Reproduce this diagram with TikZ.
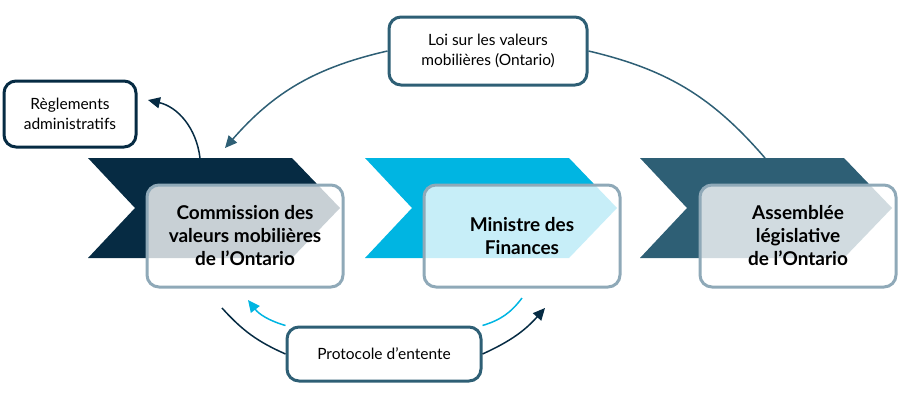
\documentclass[tikz,border=0pt]{standalone}
\usepackage{fontspec}
\setmainfont{Lato}
\usetikzlibrary{arrows.meta}
\definecolor{navy}{HTML}{062B43}
\definecolor{cyanb}{HTML}{00B5E2}
\definecolor{tealb}{HTML}{2E5F75}
\definecolor{frame}{HTML}{8FA9B8}
\tikzset{
  entity/.style={draw=frame,line width=3pt,rounded corners=12pt,fill=white,fill opacity=0.78,text opacity=1,
    minimum width=196pt,minimum height=102pt,align=center,font=\fontsize{19}{23}\selectfont\bfseries},
  tagbox/.style={draw=tealb,line width=3pt,rounded corners=12pt,fill=white,align=center,
    font=\fontsize{15.5}{20}\selectfont},
  link/.style={tealb,line width=1.5pt},
  arrowtip/.style={-{Triangle[length=12pt,width=11pt]}}
}
\begin{document}
\begin{tikzpicture}[x=1pt,y=-1pt]
\useasboundingbox (0,0) rectangle (900,400);
% chevrons
\fill[navy] (88,158) -- (292,158) -- (340,208) -- (292,258) -- (88,258) -- (135,208) -- cycle;
\fill[cyanb] (365,158) -- (569,158) -- (617,208) -- (569,258) -- (365,258) -- (412,208) -- cycle;
\fill[tealb] (640,158) -- (844,158) -- (892,208) -- (844,258) -- (640,258) -- (687,208) -- cycle;
% boxes
\node[entity] (cvmo) at (245,236) {Commission des\\valeurs mobilières\\de l’Ontario};
\node[entity] (mf) at (522,236) {Ministre des\\Finances};
\node[entity] (ale) at (798,236) {Assemblée\\législative\\de l’Ontario};
\node[tagbox,minimum width=198pt,minimum height=68pt] (loi) at (488,51) {Loi sur les valeurs\\mobilières (Ontario)};
\node[tagbox,draw=navy,minimum width=132pt,minimum height=66pt] (regl) at (70,114) {Règlements\\administratifs};
\node[tagbox,minimum width=194pt,minimum height=54pt] (proto) at (384,354) {Protocole d’entente};
\coordinate (a1) at (225,148);
\coordinate (a2) at (765,158);
\coordinate (a3) at (148,100);
\coordinate (a4) at (200,158);
\coordinate (b1) at (222,308);
\coordinate (b2) at (545,308);
\coordinate (c1) at (522,298);
\coordinate (c2) at (248,300);
% connectors
\draw[link,arrowtip] (loi.west) to[bend right=18] (a1);
\draw[link] (loi.east) to[bend left=18] (a2);
\draw[navy,line width=1.5pt,arrowtip] (a4) to[bend right=35] (a3);
\draw[navy,line width=1.5pt] (b1) to[bend right=12] (proto.west);
\draw[navy,line width=1.5pt,arrowtip] (proto.east) to[bend right=12] (b2);
\draw[cyanb,line width=1.5pt] (c1) to[bend left=18] (proto.north east);
\draw[cyanb,line width=1.5pt,arrowtip] (proto.north west) to[bend left=18] (c2);
\end{tikzpicture}
\end{document}
